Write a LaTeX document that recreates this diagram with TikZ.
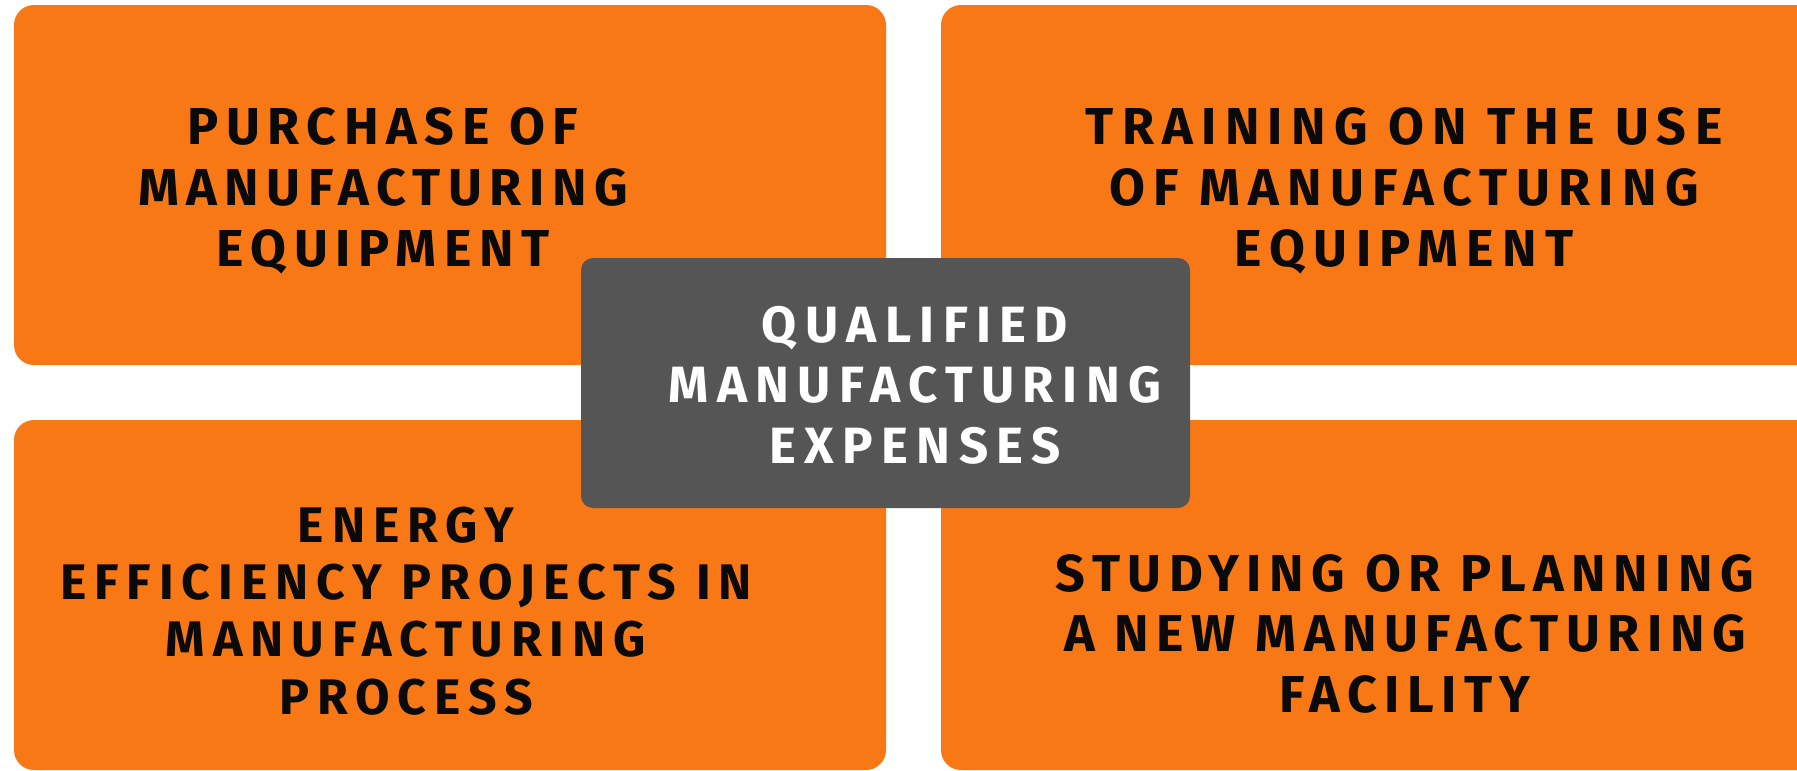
\documentclass[tikz,border=0pt]{standalone}
\usepackage{fontspec}
\newfontfamily\tilefont[LetterSpace=14.5]{Fira Sans}
\definecolor{tileorange}{HTML}{F97816}
\definecolor{hubgray}{HTML}{555555}
\definecolor{inkblack}{HTML}{0A0A0A}
\begin{document}
\begin{tikzpicture}[x=1pt, y=-1pt,
  tile/.style={fill=tileorange, rounded corners=20pt},
  hub/.style={fill=hubgray, rounded corners=12pt},
  tiletext/.style={anchor=base, align=center, inner sep=0pt, text=inkblack,
    font=\tilefont\bfseries\fontsize{52}{61}\selectfont}]
\clip (0,0) rectangle (1797,771);
\fill[white] (0,0) rectangle (1797,771);
% four tiles
\fill[tile] (14,5) rectangle (886,365);
\fill[tile] (941,5) rectangle (1840,365);
\fill[tile] (14,420) rectangle (886,770);
\fill[tile] (941,420) rectangle (1840,770);
% centre box
\fill[hub] (581,258) rectangle (1190,508);
\node[tiletext] (purchase) at (383,266) {PURCHASE OF\\MANUFACTURING\\EQUIPMENT};
\node[tiletext, font=\tilefont\addfontfeature{LetterSpace=16}\bfseries\fontsize{52}{61}\selectfont] (training) at (1404,266) {TRAINING ON THE USE\\OF MANUFACTURING\\EQUIPMENT};
\node[tiletext, font=\tilefont\addfontfeature{LetterSpace=16}\bfseries\fontsize{50}{57.3}\selectfont] (energy) at (406,714) {ENERGY\\EFFICIENCY PROJECTS IN\\MANUFACTURING\\PROCESS};
\node[tiletext, font=\tilefont\bfseries\fontsize{52}{60.5}\selectfont] (studying) at (1405,712) {STUDYING OR PLANNING\\A NEW MANUFACTURING\\FACILITY};
\node[tiletext, text=white, font=\tilefont\addfontfeature{LetterSpace=16.5}\bfseries\fontsize{51}{60.5}\selectfont] (qualified) at (915,463) {QUALIFIED\\MANUFACTURING\\EXPENSES};
\end{tikzpicture}
\end{document}
